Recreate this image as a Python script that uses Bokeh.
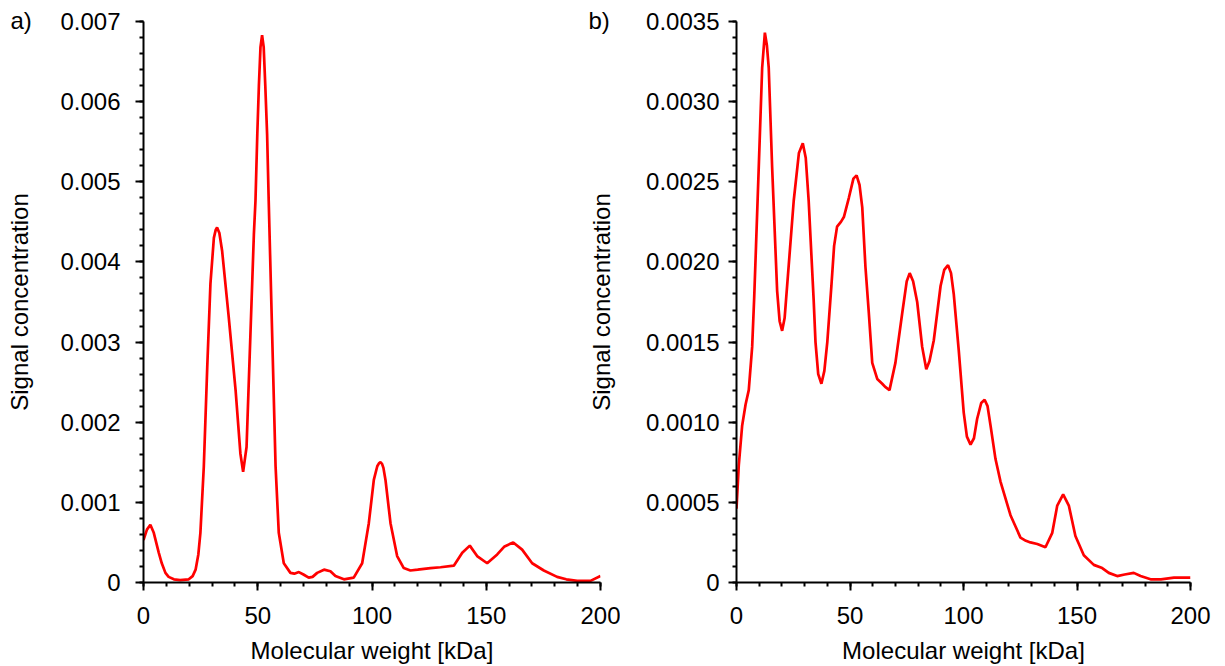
from bokeh.plotting import figure
from bokeh.layouts import row
from bokeh.models import Range1d, FixedTicker
from bokeh.embed import file_html
from bokeh.resources import INLINE

# ---------------- data ----------------
mw_a = [0, 1.5, 3, 4.5, 6.7, 8, 9.6, 11, 13.3, 16, 19.8, 21.5, 22.8, 24, 24.9,
        26.4, 27.9, 29.3, 30.8, 31.6, 32.2, 33.2, 34.4, 37.3, 40.3, 42.4, 43.6, 45.1,
        46.8, 48.3, 49.0, 49.8, 50.5, 51.2, 51.9, 52.6, 53.3, 54.1, 54.8, 56.3,
        57.8, 59.2, 61.4, 64.3, 66, 68, 70, 72.3, 74, 76, 79, 81.8, 84, 87.7,
        92, 95.7, 98.6, 100.8, 102.3, 103.1, 103.7, 104.4, 105, 105.9, 108.1, 111, 113.9,
        116.8, 120, 125.6, 130, 135.8, 139.5, 142.8, 146, 150.4, 154.8, 158,
        161.8, 165.7, 170.1, 175.2, 181, 185, 189.8, 195.6, 200]
sig_a = [0.00053, 0.00066, 0.00072, 0.00062, 0.00037, 0.00024, 0.00012, 0.00007,
         0.00004, 0.00003, 0.00004, 0.00008, 0.00016, 0.00035, 0.00062,
         0.00145, 0.00269, 0.00373, 0.0043, 0.0044, 0.00443, 0.00436, 0.00414, 0.00331,
         0.0024, 0.00161, 0.00138, 0.00169, 0.0031, 0.00434, 0.00476, 0.00559,
         0.0062, 0.00668, 0.00683, 0.00668, 0.0062, 0.00559, 0.00476, 0.0031,
         0.00145, 0.00062, 0.00024, 0.00012, 0.00011, 0.00013, 0.00010, 0.00006,
         0.00007, 0.00012, 0.00016, 0.00014, 0.00008, 0.00004, 0.00006, 0.00024,
         0.00074, 0.00128, 0.00145, 0.00149, 0.0015, 0.00148, 0.00143, 0.00128, 0.00074, 0.00033,
         0.00018, 0.00015, 0.00016, 0.00018, 0.00019, 0.00021, 0.00037, 0.00046,
         0.00033, 0.00024, 0.00035, 0.00045, 0.0005, 0.00041, 0.00024, 0.00015,
         0.00007, 0.00004, 0.00002, 0.00002, 0.00008]

mw_b = [0, 1.0, 2.5, 4, 5.4, 6.9, 7.8, 8.6, 9.8, 11.3, 12.5, 13.4, 14.2, 15.7,
        17.9, 19, 20.1, 21.2, 22.3, 25.2, 27.5, 29.2, 30.5, 31.8, 34, 34.8, 36,
        37.4, 38.7, 40, 41.8, 43, 44.3, 46, 47.3, 49.5, 51.5, 52.9, 54.2, 55.4,
        56.8, 58.3, 59.8, 62, 64.2, 65.5, 67.4, 70, 73, 75, 76.3, 77.8, 79.6,
        81.8, 83.6, 85, 86.9, 89.9, 91.5, 93.2, 94.5, 95.7, 97.9, 100.1, 101.5,
        103.1, 104.6, 106, 107.8, 109.3, 110.6, 111.9, 114.1, 116.3, 120.7,
        125.1, 127.5, 129.5, 132.5, 136.1, 139.1, 141.3, 143.9, 146.4, 149.3,
        153, 157.4, 161.1, 164, 167.7, 171, 175, 178, 182.4, 187, 192.7, 200]
sig_b = [0.00046, 0.00073, 0.00098, 0.00111, 0.0012, 0.00147, 0.00178, 0.0021,
         0.00259, 0.00321, 0.00343, 0.00335, 0.00321, 0.00259, 0.00182, 0.00163,
         0.00157, 0.00165, 0.00185, 0.00238, 0.00268, 0.00274, 0.00265, 0.00238,
         0.00176, 0.0015, 0.0013, 0.00124, 0.00132, 0.0015, 0.00185, 0.0021,
         0.00222, 0.00225, 0.00228, 0.0024, 0.00252, 0.00254, 0.00248, 0.00234,
         0.00197, 0.00168, 0.00137, 0.00127, 0.00124, 0.00122, 0.0012, 0.00137,
         0.00168, 0.00188, 0.00193, 0.00188, 0.00175, 0.00147, 0.00133, 0.00138,
         0.00151, 0.00185, 0.00195, 0.00198, 0.00193, 0.0018, 0.00145, 0.00106,
         0.00091, 0.00086, 0.0009, 0.00102, 0.00112, 0.00114, 0.0011, 0.00098,
         0.00077, 0.00063, 0.00042, 0.00028, 0.00026, 0.00025, 0.00024, 0.00022,
         0.00031, 0.00048, 0.00055, 0.00048, 0.00029, 0.00017, 0.00011, 0.00009,
         0.00006, 0.00004, 0.00005, 0.00006, 0.00004, 0.00002, 0.00002, 0.00003,
         0.00003]

x_ticks = [0, 50, 100, 150, 200]
x_minor = [0, 10, 20, 30, 40, 50, 60, 70, 80, 90, 100, 110, 120, 130, 140, 150,
           160, 170, 180, 190, 200]
ya_ticks = [0.0, 0.001, 0.002, 0.003, 0.004, 0.005, 0.006, 0.007]
ya_labels = ["0", "0.001", "0.002", "0.003", "0.004", "0.005", "0.006", "0.007"]
yb_ticks = [0.0, 0.0005, 0.001, 0.0015, 0.002, 0.0025, 0.003, 0.0035]
yb_labels = ["0", "0.0005", "0.0010", "0.0015", "0.0020", "0.0025", "0.0030", "0.0035"]
panel_tags = ["a)", "b)"]
x_title = "Molecular weight [kDa]"
y_title = "Signal concentration"

FONT = "Liberation Sans"
FS = "24px"
RED = "#ff0000"


def style_axis(ax, standoff):
    ax.axis_line_color = "black"
    ax.axis_line_width = 2
    ax.major_tick_line_color = "black"
    ax.major_tick_line_width = 2
    ax.minor_tick_line_color = "black"
    ax.minor_tick_line_width = 2
    ax.major_tick_in = 0
    ax.major_tick_out = 8
    ax.minor_tick_in = 0
    ax.minor_tick_out = 4
    ax.major_label_text_font = FONT
    ax.major_label_text_font_size = FS
    ax.major_label_text_color = "black"
    ax.major_label_standoff = standoff
    ax.axis_label_text_font = FONT
    ax.axis_label_text_font_size = FS
    ax.axis_label_text_font_style = "normal"
    ax.axis_label_text_color = "black"


def make_panel(width, mleft, mright, mtop, mbottom, ymax, xs, ys, yticks, ylabels,
               ystep, ystandoff, tag, tag_offset, ylab_standoff):
    p = figure(width=width, height=666, x_range=Range1d(0, 200), y_range=Range1d(0, ymax),
               output_backend="svg", toolbar_location=None,
               min_border_left=mleft, min_border_right=mright,
               min_border_top=mtop, min_border_bottom=mbottom)
    p.outline_line_color = None
    p.grid.visible = False
    p.background_fill_alpha = 0
    p.border_fill_alpha = 0
    p.line(xs, ys, line_color=RED, line_width=2.7)

    xa = p.xaxis[0]
    xa.ticker = FixedTicker(ticks=x_ticks, minor_ticks=x_minor)
    style_axis(xa, 16)
    xa.major_label_text_line_height = 1.0
    xa.axis_label_text_line_height = 1.0
    xa.axis_label = x_title
    xa.axis_label_standoff = 10

    ya = p.yaxis[0]
    minor = [round(i * ystep, 6) for i in range(int(round(ymax / ystep)) + 1)]
    ya.ticker = FixedTicker(ticks=yticks, minor_ticks=minor)
    ya.major_label_overrides = {t: l for t, l in zip(yticks, ylabels)}
    style_axis(ya, ystandoff)
    ya.axis_label = y_title
    ya.axis_label_standoff = ylab_standoff

    p.title.text = tag
    p.title.align = "left"
    p.title.offset = tag_offset
    p.title.standoff = -25
    p.title.vertical_align = "bottom"
    p.title.text_font = FONT
    p.title.text_font_size = FS
    p.title.text_font_style = "normal"
    p.title.text_color = "black"
    return p


left = make_panel(620, 143, 20, 19, 83, 0.007, mw_a, sig_a, ya_ticks, ya_labels,
                  0.0002, 15, panel_tags[0], -133, 24)
right = make_panel(640, 151, 35, 21, 82, 0.0035, mw_b, sig_b, yb_ticks, yb_labels,
                   0.0001, 9, panel_tags[1], -148, 28)
right.margin = (0, 0, 0, -35)

layout = row(left, right)
with open("out.html", "w") as f:
    f.write(file_html(layout, INLINE))
